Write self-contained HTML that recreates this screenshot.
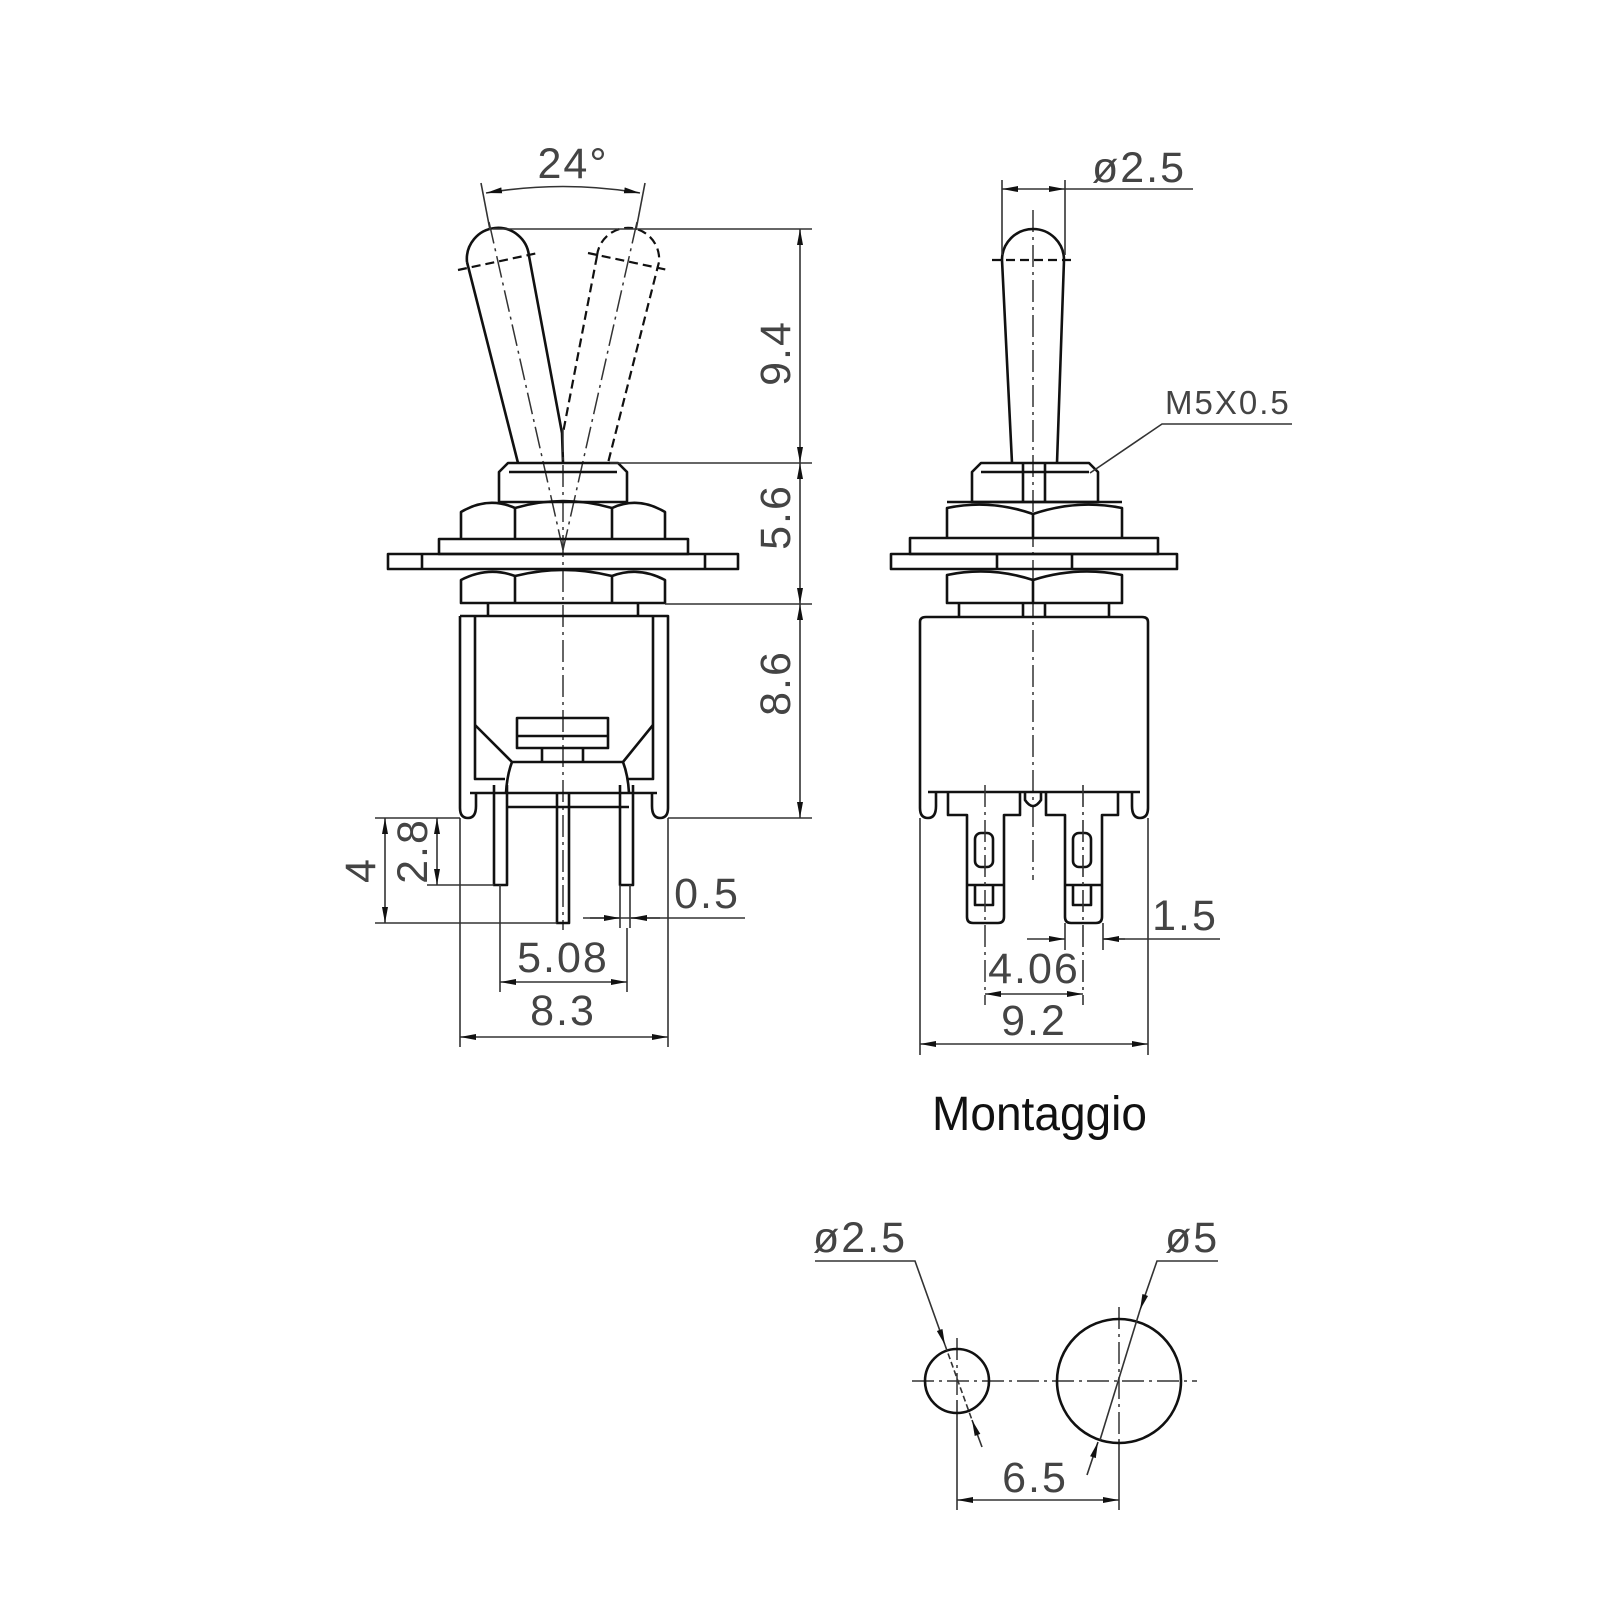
<!DOCTYPE html>
<html><head><meta charset="utf-8"><style>
html,body{margin:0;padding:0;background:#fff}
svg{display:block}
.o{fill:none;stroke:#111;stroke-width:2.6;stroke-linejoin:round}
.d{fill:none;stroke:#333;stroke-width:1.6}
.ds{fill:none;stroke:#111;stroke-width:2.2;stroke-dasharray:9 5}
.cl{fill:none;stroke:#333;stroke-width:1.5;stroke-dasharray:22 5 3 5}
.t{font-family:"Liberation Sans",sans-serif;fill:#444;font-size:43px;letter-spacing:2px}
</style></head><body>
<svg width="1600" height="1600" viewBox="0 0 1600 1600" xmlns="http://www.w3.org/2000/svg">
<defs>
<marker id="a" viewBox="0 0 16 6" refX="16" refY="3" markerWidth="16" markerHeight="6" markerUnits="userSpaceOnUse" orient="auto-start-reverse"><path d="M0,0 L16,3 L0,6 z" fill="#111"/></marker>
</defs>

<!-- ===== LEFT VIEW ===== -->
<!-- toggle solid -->
<path class="o" d="M467,262 A31,31 0 0 1 529,256 L562,433 L563,463 M467,262 L518,463"/>
<!-- toggle dashed -->
<path class="ds" d="M597,256 A31,31 0 0 1 659,262 L608,463 M597,256 L563,433"/>
<line class="ds" x1="458" y1="270" x2="538" y2="253"/>
<line class="ds" x1="588" y1="253" x2="668" y2="270"/>
<!-- axes -->
<line class="cl" x1="489" y1="222" x2="563" y2="550"/>
<line class="cl" x1="637" y1="222" x2="563" y2="550"/>
<line class="cl" x1="563" y1="430" x2="563" y2="930"/>
<!-- 24 deg -->
<line class="d" x1="481" y1="183" x2="490" y2="230"/>
<line class="d" x1="645" y1="183" x2="636" y2="230"/>
<path class="d" d="M486,193 Q563,180 640,193" marker-start="url(#a)" marker-end="url(#a)"/>
<text class="t" x="573" y="178" text-anchor="middle">24°</text>
<!-- bushing -->
<path class="o" d="M499,502 V472 L508,463 H618 L627,472 V502 Z M509,472 H617"/>
<!-- upper nut -->
<path class="o" d="M461,539 V512 Q488,496 515,508 Q563,494 612,508 Q638,496 665,512 V539 M515,508 V539 M612,508 V539"/>
<!-- washer & panel -->
<rect class="o" x="439" y="539" width="249" height="15"/>
<rect class="o" x="388" y="554" width="350" height="15"/>
<path class="o" d="M422,554 V569 M705,554 V569"/>
<!-- lower nut -->
<path class="o" d="M461,603 V580 Q488,566 515,576 Q563,564 612,576 Q638,566 665,580 V603 Z M515,576 V603 M612,576 V603"/>
<!-- spacer -->
<path class="o" d="M488,603 V616 M638,603 V616"/>
<!-- body -->
<path class="o" d="M460,616 H668 V808 Q668,818 660,818 Q652,818 652,806 V793 M460,616 V808 Q460,818 468,818 Q476,818 476,806 V793 M475,616 V779 H505 M653,616 V779 H628"/>
<path class="o" d="M475,725 L512,762 H623 L653,725 M512,762 Q507,775 506,793 M623,762 Q628,775 629,793"/>
<path class="o" d="M470,793 H657 M506,807 H629"/>
<rect class="o" x="517" y="718" width="91" height="30"/>
<path class="o" d="M517,736 H608 M542,748 V762 M583,748 V762"/>
<!-- pins -->
<path class="o" d="M494,785 V885 H507 V785 M557,793 V923 H569 V793 M620,785 V885 H633 V785"/>
<path class="d" d="M620,885 V928 M630,885 V928"/>
<!-- vertical dims -->
<line class="d" x1="493" y1="229" x2="812" y2="229"/>
<line class="d" x1="610" y1="463" x2="812" y2="463"/>
<line class="d" x1="665" y1="604" x2="812" y2="604"/>
<line class="d" x1="668" y1="818" x2="812" y2="818"/>
<line class="d" x1="800" y1="229" x2="800" y2="463" marker-start="url(#a)" marker-end="url(#a)"/>
<line class="d" x1="800" y1="463" x2="800" y2="604" marker-start="url(#a)" marker-end="url(#a)"/>
<line class="d" x1="800" y1="604" x2="800" y2="818" marker-start="url(#a)" marker-end="url(#a)"/>
<text class="t" transform="translate(790,353) rotate(-90)" text-anchor="middle">9.4</text>
<text class="t" transform="translate(790,517) rotate(-90)" text-anchor="middle">5.6</text>
<text class="t" transform="translate(790,683) rotate(-90)" text-anchor="middle">8.6</text>
<!-- pin length dims -->
<line class="d" x1="375" y1="818" x2="460" y2="818"/>
<line class="d" x1="427" y1="885" x2="494" y2="885"/>
<line class="d" x1="375" y1="923" x2="557" y2="923"/>
<line class="d" x1="437" y1="818" x2="437" y2="885" marker-start="url(#a)" marker-end="url(#a)"/>
<line class="d" x1="385" y1="818" x2="385" y2="923" marker-start="url(#a)" marker-end="url(#a)"/>
<text class="t" transform="translate(427,851) rotate(-90)" text-anchor="middle">2.8</text>
<text class="t" transform="translate(375,870) rotate(-90)" text-anchor="middle">4</text>
<!-- 0.5 -->
<line class="d" x1="583" y1="918" x2="745" y2="918"/>
<line class="d" x1="590" y1="918" x2="620" y2="918" marker-end="url(#a)"/>
<line class="d" x1="660" y1="918" x2="631" y2="918" marker-end="url(#a)"/>
<text class="t" x="707" y="908" text-anchor="middle">0.5</text>
<!-- 5.08 -->
<line class="d" x1="500" y1="885" x2="500" y2="992"/>
<line class="d" x1="627" y1="928" x2="627" y2="992"/>
<line class="d" x1="500" y1="982" x2="627" y2="982" marker-start="url(#a)" marker-end="url(#a)"/>
<text class="t" x="563" y="972" text-anchor="middle">5.08</text>
<!-- 8.3 -->
<line class="d" x1="460" y1="818" x2="460" y2="1047"/>
<line class="d" x1="668" y1="818" x2="668" y2="1047"/>
<line class="d" x1="460" y1="1037" x2="668" y2="1037" marker-start="url(#a)" marker-end="url(#a)"/>
<text class="t" x="563" y="1025" text-anchor="middle">8.3</text>

<!-- ===== RIGHT VIEW ===== -->
<line class="cl" x1="1033" y1="210" x2="1033" y2="880"/>
<path class="o" d="M1002,260 A31,31 0 0 1 1064,260 L1057,463 M1002,260 L1012,463"/>
<line class="ds" x1="992" y1="260" x2="1075" y2="260"/>
<!-- ø2.5 -->
<line class="d" x1="1002" y1="180" x2="1002" y2="255"/>
<line class="d" x1="1065" y1="180" x2="1065" y2="255"/>
<line class="d" x1="1065" y1="189" x2="1193" y2="189"/>
<line class="d" x1="1002" y1="189" x2="1065" y2="189" marker-start="url(#a)" marker-end="url(#a)"/>
<text class="t" x="1092" y="182">ø2.5</text>
<!-- bushing -->
<path class="o" d="M972,502 V472 L981,463 H1089 L1098,472 V502 Z M981,472 H1089 M1023,463 V502 M1045,463 V502"/>
<!-- M5X0.5 -->
<path class="d" d="M1090,473 L1162,424 H1292"/>
<text class="t" x="1165" y="414" style="font-size:33px">M5X0.5</text>
<!-- nuts, washer, panel -->
<path class="o" d="M947,538 V508 Q990,499 1033,514 Q1077,499 1122,508 V538 M947,502 H1122 M1033,514 V538"/>
<rect class="o" x="910" y="538" width="248" height="16"/>
<rect class="o" x="891" y="554" width="286" height="15"/>
<path class="o" d="M997,554 V569 M1072,554 V569"/>
<path class="o" d="M947,603 V575 Q990,566 1033,580 Q1077,566 1122,575 V603 Z M1033,580 V603"/>
<path class="o" d="M959,603 V616 M1109,603 V616 M1023,603 V616 M1045,603 V616"/>
<!-- body -->
<path class="o" d="M920,622 Q920,617 926,617 H1142 Q1148,617 1148,622 V808 Q1148,818 1140,818 Q1132,818 1132,806 V792 M920,622 V808 Q920,818 928,818 Q936,818 936,806 V792"/>
<path class="o" d="M928,792 H1140 M1025,792 V800 Q1033,812 1041,800 V792"/>
<!-- terminals -->
<path class="o" d="M948,792 V815 H967 V917 Q967,923 973,923 H998 Q1004,923 1004,917 V815 H1020 V792"/>
<path class="o" d="M1046,792 V815 H1065 V917 Q1065,923 1071,923 H1096 Q1102,923 1102,917 V815 H1118 V792"/>
<rect class="o" x="975" y="833" width="18" height="34" rx="6"/>
<rect class="o" x="1073" y="833" width="18" height="34" rx="6"/>
<path class="o" d="M967,885 H1004 M975,885 V905 H993 V885 M1065,885 H1102 M1073,885 V905 H1091 V885"/>
<!-- terminal axes -->
<line class="cl" x1="985" y1="785" x2="985" y2="1005"/>
<line class="d" x1="1083" y1="785" x2="1083" y2="1005" stroke-dasharray="22 5 3 5"/>
<!-- 1.5 -->
<line class="d" x1="1065" y1="923" x2="1065" y2="950"/>
<line class="d" x1="1103" y1="923" x2="1103" y2="950"/>
<line class="d" x1="1027" y1="939" x2="1065" y2="939" marker-end="url(#a)"/>
<line class="d" x1="1220" y1="939" x2="1103" y2="939"/>
<line class="d" x1="1125" y1="939" x2="1103" y2="939" marker-end="url(#a)"/>
<text class="t" x="1185" y="930" text-anchor="middle">1.5</text>
<!-- 4.06 -->
<line class="d" x1="985" y1="994" x2="1083" y2="994" marker-start="url(#a)" marker-end="url(#a)"/>
<text class="t" x="1034" y="983" text-anchor="middle">4.06</text>
<!-- 9.2 -->
<line class="d" x1="920" y1="818" x2="920" y2="1055"/>
<line class="d" x1="1148" y1="818" x2="1148" y2="1055"/>
<line class="d" x1="920" y1="1044" x2="1148" y2="1044" marker-start="url(#a)" marker-end="url(#a)"/>
<text class="t" x="1034" y="1035" text-anchor="middle">9.2</text>

<!-- Montaggio -->
<text x="932" y="1130" textLength="215" lengthAdjust="spacingAndGlyphs" style="font-family:'Liberation Sans',sans-serif;font-size:48px;fill:#111">Montaggio</text>

<!-- ===== MOUNTING ===== -->
<line class="cl" x1="912" y1="1381" x2="1197" y2="1381"/>
<line class="cl" x1="957" y1="1338" x2="957" y2="1400"/>
<line class="d" x1="957" y1="1400" x2="957" y2="1510"/>
<line class="cl" x1="1119" y1="1307" x2="1119" y2="1440"/>
<line class="d" x1="1119" y1="1440" x2="1119" y2="1510"/>
<circle class="o" cx="957" cy="1381" r="32"/>
<circle class="o" cx="1119" cy="1381" r="62"/>
<!-- ø2.5 leader -->
<path class="d" d="M815,1261 H915 L945,1345" marker-end="url(#a)"/>
<line class="d" x1="982" y1="1447" x2="972" y2="1420" marker-end="url(#a)"/>
<line class="d" x1="945" y1="1345" x2="972" y2="1420" stroke-dasharray="6 3"/>
<text class="t" x="813" y="1252">ø2.5</text>
<!-- ø5 leader -->
<path class="d" d="M1218,1261 H1157 L1140,1310" marker-end="url(#a)"/>
<line class="d" x1="1140" y1="1310" x2="1100" y2="1440"/>
<line class="d" x1="1087" y1="1475" x2="1098" y2="1442" marker-end="url(#a)"/>
<text class="t" x="1165" y="1252">ø5</text>
<!-- 6.5 -->
<line class="d" x1="957" y1="1500" x2="1119" y2="1500" marker-start="url(#a)" marker-end="url(#a)"/>
<text class="t" x="1035" y="1492" text-anchor="middle">6.5</text>
</svg>
</body></html>
